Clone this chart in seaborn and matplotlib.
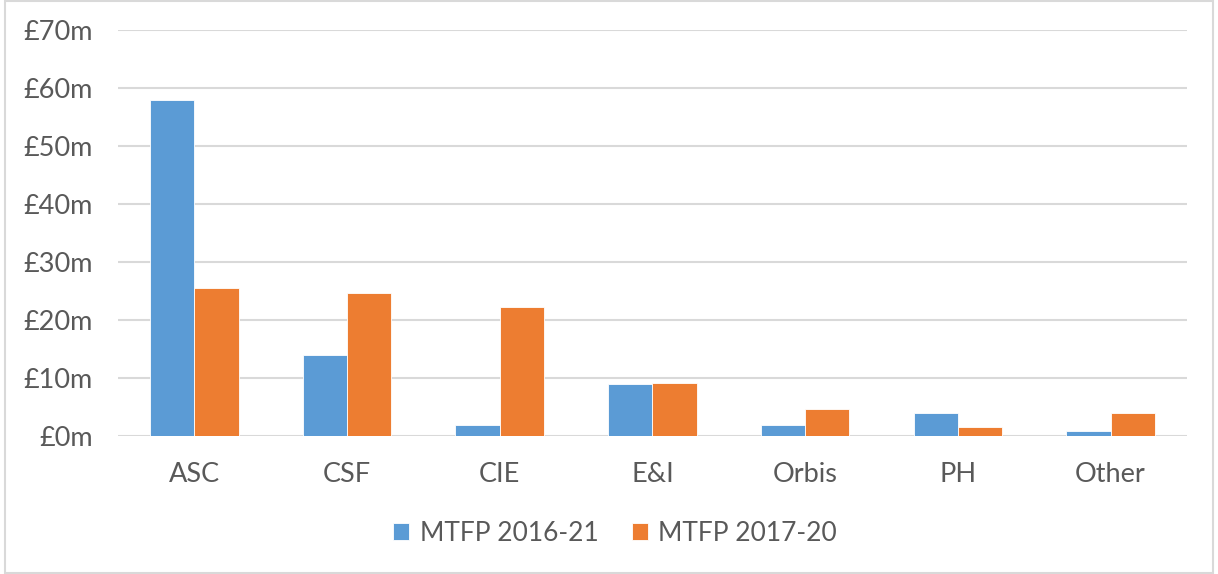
import numpy as np
import pandas as pd
import matplotlib
matplotlib.use("Agg")
import matplotlib.pyplot as plt
from matplotlib.patches import Rectangle
from matplotlib.ticker import FuncFormatter
import seaborn as sns

# === Datos ===
categories = ["ASC", "CSF", "CIE", "E&I", "Orbis", "PH", "Other"]
series_names = ["MTFP 2016-21", "MTFP 2017-20"]
mtfp_2016_21 = [58.0, 14.0, 1.9, 8.9, 1.9, 3.9, 0.9]
mtfp_2017_20 = [25.6, 24.6, 22.2, 9.2, 4.7, 1.6, 3.9]

df = pd.DataFrame({
    "Category": categories * 2,
    "Series": [series_names[0]] * len(categories) + [series_names[1]] * len(categories),
    "Value": mtfp_2016_21 + mtfp_2017_20,
})

# === Estilo ===
sns.set_theme(style="white")
plt.rcParams["font.family"] = ["Lato", "DejaVu Sans"]
text_color = "#595959"
palette = {series_names[0]: "#5B9BD5", series_names[1]: "#ED7D31"}

fig = plt.figure(figsize=(12.18, 5.74), dpi=100)
ax = fig.add_axes([0.0969, 0.2404, 0.8776, 0.7073])

sns.barplot(data=df, x="Category", y="Value", hue="Series", palette=palette,
            width=0.58, gap=0, saturation=1, linewidth=0.6, edgecolor="white",
            ax=ax, legend=True)

ax.set_ylim(0, 70)
ax.set_xlim(-0.5, 6.5)
ax.set_yticks(np.arange(0, 71, 10))
ax.yaxis.set_major_formatter(FuncFormatter(lambda v, p: f"£{int(v)}m"))
ax.grid(axis="y", color="#D9D9D9", linewidth=1.5)
ax.set_axisbelow(True)
for s in ax.spines.values():
    s.set_visible(False)
ax.set_xlabel("")
ax.set_ylabel("")
ax.tick_params(axis="y", length=0, pad=18, labelsize=19.5, colors=text_color)
ax.tick_params(axis="x", length=0, pad=19, labelsize=19.5, colors=text_color)

handles, labels = ax.get_legend_handles_labels()
ax.legend(handles, labels, loc="center", bbox_to_anchor=(0.505, 0.0711), bbox_transform=fig.transFigure,
          ncol=2, frameon=False, fontsize=19, labelcolor=text_color,
          handlelength=0.62, handleheight=0.62, handletextpad=0.4, columnspacing=1.25)

# Borde del gráfico
fig.patches.append(Rectangle((0.004, 0.002), 0.992, 0.996, transform=fig.transFigure,
                             fill=False, edgecolor="#D9D9D9", linewidth=1.5))

fig.savefig("out.png", dpi=100)
